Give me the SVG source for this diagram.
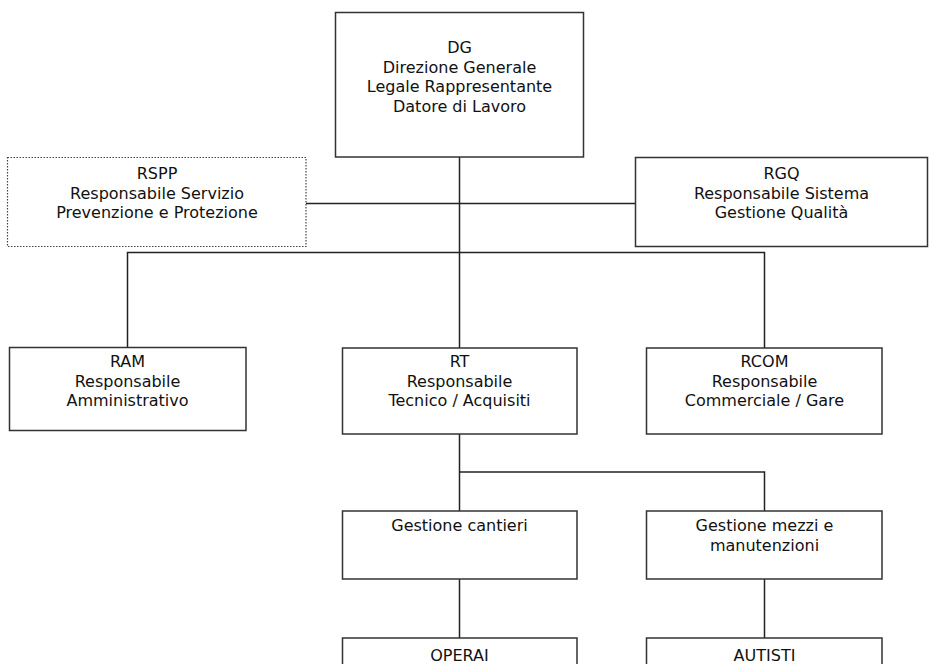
<svg xmlns="http://www.w3.org/2000/svg" width="929" height="664" viewBox="0 0 929 664">
<style>
.box{fill:#fff;stroke:#333;stroke-width:1.5}
.dot{fill:#fff;stroke:#444;stroke-width:1.2;stroke-dasharray:1.5 1.5}
.ln{fill:none;stroke:#222;stroke-width:1.5}
text{font-family:"DejaVu Sans",Verdana,sans-serif;font-size:16px;fill:#111;text-anchor:middle}
</style>
<rect width="929" height="664" fill="#fff"/>
<g id="connectors">
<path class="ln" d="M459.5 157 V348"/>
<path class="ln" d="M306 203.5 H635"/>
<path class="ln" d="M127.5 347 V252.5 H764.5 V348"/>
<path class="ln" d="M459.5 434 V511"/>
<path class="ln" d="M459.5 472 H764.5 V511"/>
<path class="ln" d="M459.5 579 V638"/>
<path class="ln" d="M764.5 579 V638"/>
</g>
<g id="DG">
<rect class="box" x="335.5" y="12.5" width="248" height="144.5"/>
<text x="459.5" y="53">DG</text>
<text x="459.5" y="72.5">Direzione Generale</text>
<text x="459.5" y="92">Legale Rappresentante</text>
<text x="459.5" y="111.5">Datore di Lavoro</text>
</g>
<g id="RSPP">
<rect class="dot" x="7.5" y="157.5" width="298.5" height="89"/>
<text x="157" y="179">RSPP</text>
<text x="157" y="198.5">Responsabile Servizio</text>
<text x="157" y="218">Prevenzione e Protezione</text>
</g>
<g id="RGQ">
<rect class="box" x="635.5" y="157.5" width="292" height="89"/>
<text x="781.5" y="179">RGQ</text>
<text x="781.5" y="198.5">Responsabile Sistema</text>
<text x="781.5" y="218">Gestione Qualità</text>
</g>
<g id="RAM">
<rect class="box" x="9.5" y="347.5" width="236.5" height="83"/>
<text x="127.5" y="367">RAM</text>
<text x="127.5" y="386.5">Responsabile</text>
<text x="127.5" y="406">Amministrativo</text>
</g>
<g id="RT">
<rect class="box" x="342.5" y="348" width="234.5" height="86"/>
<text x="459.5" y="367">RT</text>
<text x="459.5" y="386.5">Responsabile</text>
<text x="459.5" y="406">Tecnico / Acquisiti</text>
</g>
<g id="RCOM">
<rect class="box" x="646.5" y="348" width="235.5" height="86"/>
<text x="764.5" y="367">RCOM</text>
<text x="764.5" y="386.5">Responsabile</text>
<text x="764.5" y="406">Commerciale / Gare</text>
</g>
<g id="GestioneCantieri">
<rect class="box" x="342.5" y="511" width="234.5" height="68"/>
<text x="459.5" y="531">Gestione cantieri</text>
</g>
<g id="GestioneMezzi">
<rect class="box" x="646.5" y="511" width="235.5" height="68"/>
<text x="764.5" y="531">Gestione mezzi e</text>
<text x="764.5" y="550.5">manutenzioni</text>
</g>
<g id="OPERAI">
<rect class="box" x="342.5" y="638" width="234.5" height="40"/>
<text x="459.5" y="661">OPERAI</text>
</g>
<g id="AUTISTI">
<rect class="box" x="646.5" y="638" width="235.5" height="40"/>
<text x="764.5" y="661">AUTISTI</text>
</g>
</svg>
